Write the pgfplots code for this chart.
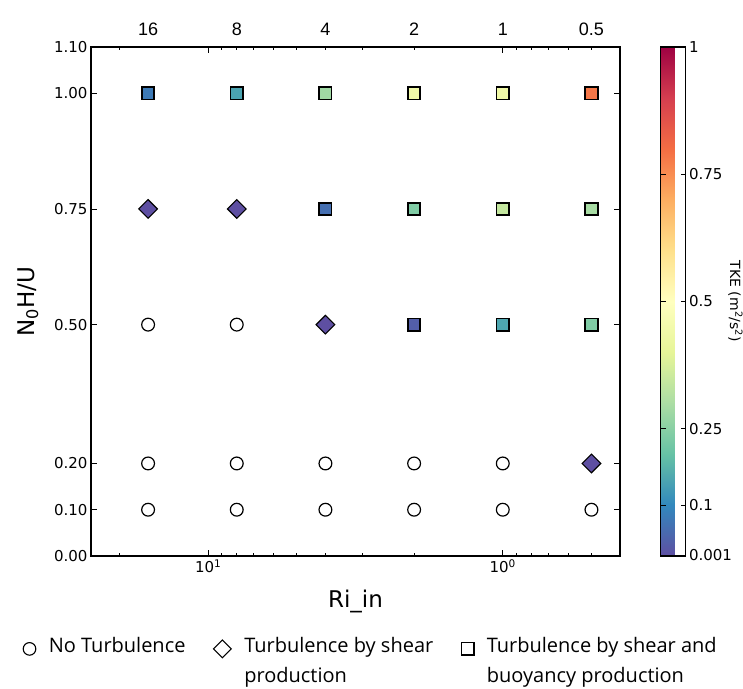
\documentclass[border=0pt]{standalone}
\usepackage{pgfplots}
\usepackage{pgfplotstable}
\pgfplotsset{compat=1.18}
\usepackage{fontspec}
\setmainfont{DejaVu Sans}
\newfontfamily\legendfont{Open Sans}
\newfontfamily\topfont{Liberation Sans}

% reversed "Spectral" colour scale
\pgfplotsset{
  colormap={spectralr}{rgb255=(94,79,162) rgb255=(50,136,189) rgb255=(102,194,165)
    rgb255=(171,221,164) rgb255=(230,245,152) rgb255=(255,255,191) rgb255=(254,224,139)
    rgb255=(253,174,97) rgb255=(244,109,67) rgb255=(213,62,79) rgb255=(158,1,66)},
  single mark legend/.style={legend image code/.code={\draw[##1] plot coordinates {(0bp,-14bp)};}},
}

% turbulence by shear and buoyancy production
\pgfplotstableread{
x   y     tke
16  1.00  0.075
8   1.00  0.148
4   1.00  0.284
2   1.00  0.44
1   1.00  0.44
0.5 1.00  0.785
4   0.75  0.056
2   0.75  0.238
1   0.75  0.342
0.5 0.75  0.296
2   0.50  0.026
1   0.50  0.154
0.5 0.50  0.238
}\shearbuoy

% turbulence by shear production only
\pgfplotstableread{
x   y     tke
16  0.75  0.0
8   0.75  0.0
4   0.50  0.0
0.5 0.20  0.0
}\shearonly

% no turbulence
\pgfplotstableread{
x   y
16  0.50
8   0.50
16  0.20
8   0.20
4   0.20
2   0.20
1   0.20
16  0.10
8   0.10
4   0.10
2   0.10
1   0.10
0.5 0.10
}\noturb

\begin{document}
\begin{tikzpicture}
\useasboundingbox (-91bp,-133bp) rectangle (652bp,556bp);
\begin{axis}[
  scale only axis, width=529bp, height=509bp,
  xmode=log, x dir=reverse, xmin=0.4, xmax=25,
  ymin=0, ymax=1.1,
  ytick={0,0.1,0.2,0.5,0.75,1,1.1},
  yticklabels={0.00,0.10,0.20,0.50,0.75,1.00,1.10},
  xtick={1,10}, xticklabels={10\textsuperscript{0},10\textsuperscript{1}},
  minor xtick={0.4,0.5,0.6,0.7,0.8,0.9,2,3,4,5,6,7,8,9,20},
  tick align=inside, tick pos=both, xticklabel pos=lower, yticklabel pos=left,
  major tick length=6bp, minor tick length=3bp,
  every tick/.style={black, line width=0.9bp},
  axis line style={line width=1.3bp},
  tick label style={font=\fontsize{15bp}{18bp}\selectfont},
  xlabel={Ri\_in}, ylabel={N\textsubscript{0}H/U},
  label style={font=\fontsize{23bp}{27bp}\selectfont},
  xlabel style={at={(axis description cs:0.5,-0.09)}, anchor=center},
  ylabel style={at={(axis description cs:-0.119,0.5)}, anchor=center},
  colormap name=spectralr,
  point meta min=0, point meta max=1,
  colorbar,
  colorbar style={
    at={(parent axis.north east)}, anchor=north west, xshift=32bp,
    scale only axis, width=25bp, height=509bp,
    ytick={0.001,0.1,0.25,0.5,0.75,1},
    yticklabels={0.001,0.1,0.25,0.5,0.75,1},
    tick align=inside, major tick length=5bp,
    every tick/.style={black, line width=0.9bp},
    axis line style={line width=1.3bp},
    yticklabel style={font=\fontsize{15bp}{18bp}\selectfont},
    ylabel={TKE (m\textsuperscript{2}/s\textsuperscript{2})},
    ylabel style={at={(axis description cs:3.0,0.5)}, anchor=center, rotate=180,
      font=\fontsize{14bp}{17bp}\selectfont},
  },
  legend columns=3,
  legend cell align=left,
  legend style={at={(axis description cs:-0.1285,-0.1546)}, anchor=north west,
    draw=none, fill=none, inner sep=0bp,
    font=\legendfont\fontsize{20bp}{30bp}\selectfont,
    cells={anchor=north west, align=left},
    /tikz/every odd column/.style={column sep=11bp},
    /tikz/every even column/.style={column sep=26bp}},
]
\addlegendimage{only marks, mark=*, mark size=6.3bp, mark options={fill=white, draw=black, line width=1.1bp}, single mark legend}
\addlegendimage{only marks, mark=square, mark size=6.3bp, mark options={rotate=45, draw=black, line width=1.1bp}, single mark legend}
\addlegendimage{only marks, mark=square, mark size=6.3bp, mark options={draw=black, line width=1.5bp}, single mark legend}
\legend{No Turbulence, Turbulence by shear\\production, Turbulence by shear and\\buoyancy production}

\addplot[forget plot, only marks, mark=*, mark size=6.4bp,
  mark options={fill=white, draw=black, line width=1.2bp}]
  table[x=x, y=y] {\noturb};
\addplot[forget plot, scatter, only marks, mark=square*, mark size=6.6bp,
  point meta=explicit,
  scatter/use mapped color={draw=black, fill=mapped color, line width=1.1bp},
  every mark/.append style={rotate=45}]
  table[x=x, y=y, meta=tke] {\shearonly};
\addplot[forget plot, scatter, only marks, mark=square*, mark size=6.2bp,
  point meta=explicit,
  scatter/use mapped color={draw=black, fill=mapped color, line width=1.7bp}]
  table[x=x, y=y, meta=tke] {\shearbuoy};
\end{axis}
% second x scale along the top edge
\begin{axis}[
  scale only axis, width=529bp, height=509bp,
  xmode=log, x dir=reverse, xmin=0.4, xmax=25,
  ymin=0, ymax=1.1,
  axis x line*=top, axis y line=none, axis line style={draw=none},
  xtick={16,8,4,2,1,0.5}, xticklabels={16,8,4,2,1,0.5},
  minor xtick={}, major tick length=0pt,
  xticklabel style={font=\topfont\fontsize{18bp}{21bp}\selectfont, yshift=8bp},
]
\end{axis}
\end{tikzpicture}
\end{document}
